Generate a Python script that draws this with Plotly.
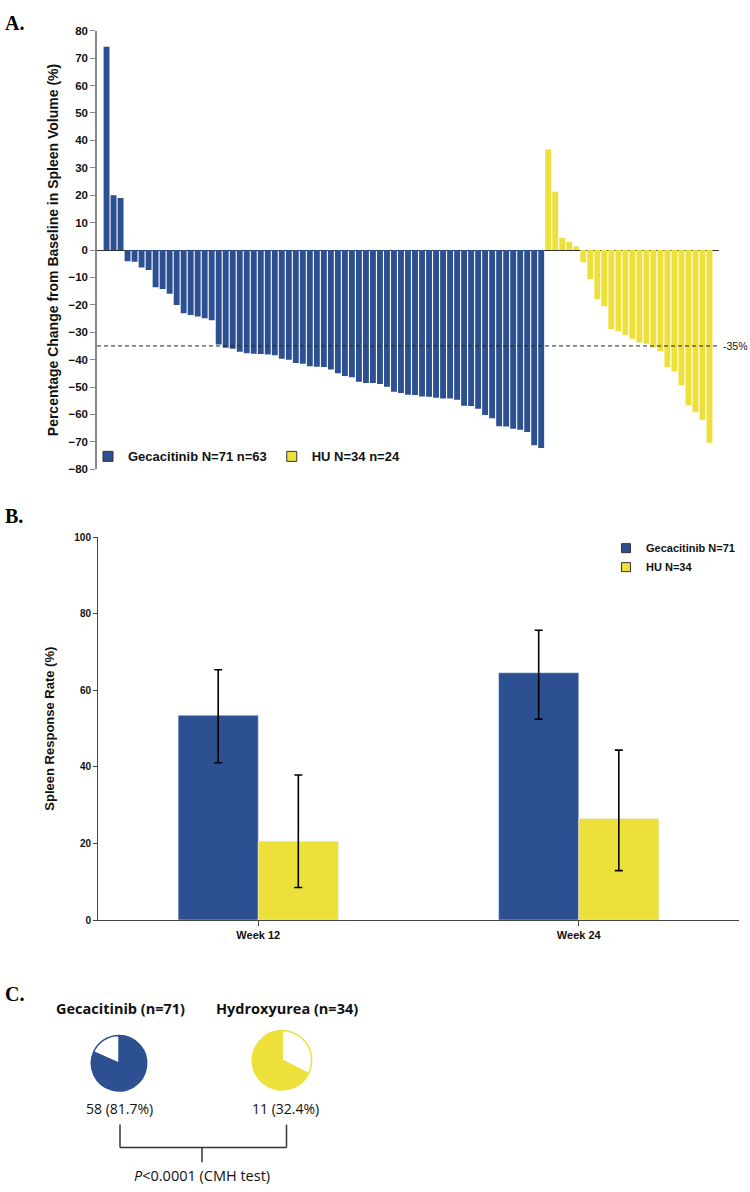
import plotly.graph_objects as go

# ---------------- DATA ----------------
gec_change = [74.2, 20.0, 19.0, -4.1, -4.3, -6.4, -7.3, -13.6, -14.2, -16.0,
              -20.1, -23.1, -23.7, -24.3, -24.9, -25.6, -34.5, -35.7, -36.0, -37.1,
              -37.7, -37.8, -37.9, -38.1, -38.4, -39.7, -40.0, -41.2, -41.5, -42.4,
              -42.6, -42.7, -43.6, -45.0, -46.0, -46.4, -48.1, -48.5, -48.5, -48.9,
              -49.9, -51.7, -52.2, -52.8, -52.9, -53.4, -53.5, -53.9, -54.2, -54.2,
              -54.6, -56.8, -56.9, -57.9, -60.2, -61.4, -64.3, -64.4, -65.2, -65.6,
              -66.4, -71.2, -72.2]
hu_change = [36.7, 21.3, 4.5, 2.9, 1.3, -4.5, -10.6, -18.0, -20.5, -28.8,
             -29.5, -30.9, -32.4, -33.7, -34.2, -35.6, -36.9, -42.8, -44.3, -49.3,
             -56.6, -59.2, -61.9, -70.3]
threshold = -35

weeks = ["Week 12", "Week 24"]
gec_rate = [53.5, 64.6]
gec_low = [41.1, 52.5]
gec_high = [65.4, 75.7]
hu_rate = [20.6, 26.5]
hu_low = [8.5, 12.9]
hu_high = [37.9, 44.4]

pie_gec = [81.7, 18.3]
pie_hu = [32.4, 67.6]

BLUE = "#2C5091"
YELLOW = "#EDE03A"

W, H = 750, 1192
def X(px): return px / W
def Y(py): return 1 - py / H

fig = go.Figure()

# ---------------- PANEL A ----------------
xa_g = list(range(len(gec_change)))
xa_h = list(range(len(gec_change), len(gec_change) + len(hu_change)))
fig.add_trace(go.Bar(x=xa_g, y=gec_change, marker=dict(color=BLUE, line=dict(width=0)),
                     width=0.84, offset=-0.42, xaxis="x", yaxis="y", showlegend=False))
fig.add_trace(go.Bar(x=xa_h, y=hu_change, marker=dict(color=YELLOW, line=dict(width=0)),
                     width=0.84, offset=-0.42, xaxis="x", yaxis="y", showlegend=False))
fig.add_trace(go.Scatter(x=[None], y=[None], mode="markers", name="Gecacitinib N=71 n=63",
                         marker=dict(symbol="square", size=10, color=BLUE, line=dict(color="#333", width=1)),
                         xaxis="x", yaxis="y", legend="legend"))
fig.add_trace(go.Scatter(x=[None], y=[None], mode="markers", name="HU N=34 n=24",
                         marker=dict(symbol="square", size=10, color=YELLOW, line=dict(color="#333", width=1)),
                         xaxis="x", yaxis="y", legend="legend"))

# ---------------- PANEL B ----------------
fig.add_trace(go.Bar(x=weeks, y=gec_rate, name="Gecacitinib N=71", marker=dict(color=BLUE),
                     error_y=dict(type="data", array=[h - r for h, r in zip(gec_high, gec_rate)],
                                  arrayminus=[r - l for r, l in zip(gec_rate, gec_low)],
                                  color="black", thickness=1.6, width=4),
                     xaxis="x2", yaxis="y2", showlegend=False))
fig.add_trace(go.Bar(x=weeks, y=hu_rate, name="HU N=34", marker=dict(color=YELLOW),
                     error_y=dict(type="data", array=[h - r for h, r in zip(hu_high, hu_rate)],
                                  arrayminus=[r - l for r, l in zip(hu_rate, hu_low)],
                                  color="black", thickness=1.6, width=4),
                     xaxis="x2", yaxis="y2", showlegend=False))
fig.add_trace(go.Scatter(x=[None], y=[None], mode="markers", name="Gecacitinib N=71",
                         marker=dict(symbol="square", size=9, color=BLUE, line=dict(color="#333", width=1)),
                         xaxis="x2", yaxis="y2", legend="legend2"))
fig.add_trace(go.Scatter(x=[None], y=[None], mode="markers", name="HU N=34",
                         marker=dict(symbol="square", size=9, color=YELLOW, line=dict(color="#333", width=1)),
                         xaxis="x2", yaxis="y2", legend="legend2"))

# ---------------- PANEL C ----------------
fig.add_trace(go.Pie(values=pie_gec, marker=dict(colors=[BLUE, "white"], line=dict(color=BLUE, width=1.5)),
                     sort=False, direction="clockwise", rotation=0, textinfo="none", hoverinfo="skip",
                     showlegend=False, domain=dict(x=[X(91), X(147)], y=[Y(1096), Y(1040)])))
fig.add_trace(go.Pie(values=pie_hu, marker=dict(colors=["white", YELLOW], line=dict(color=YELLOW, width=1.5)),
                     sort=False, direction="clockwise", rotation=0, textinfo="none", hoverinfo="skip",
                     showlegend=False, domain=dict(x=[X(252), X(312)], y=[Y(1095), Y(1035)])))

n_total = len(gec_change) + len(hu_change)
axfont = dict(family="Arial", size=11.5, color="#111", weight="bold")
narrow = dict(family="Liberation Sans Narrow, Arial Narrow, Arial", size=10, color="#111", weight="bold")

fig.update_layout(
    width=W, height=H, margin=dict(l=0, r=0, t=0, b=0),
    paper_bgcolor="white", plot_bgcolor="white",
    barmode="group", bargap=0.5, bargroupgap=0,
    xaxis=dict(domain=[X(97), X(719)], range=[-1.36, n_total - 1 + 1.36],
               showline=False, showticklabels=False, ticks="", showgrid=False, zeroline=False),
    yaxis=dict(domain=[Y(468), Y(25)], range=[-80, 80], dtick=10, tick0=0,
               showline=True, linecolor="#888", linewidth=1.5, ticks="outside", ticklen=5,
               tickcolor="#888", showgrid=False, zeroline=True, zerolinecolor="#333", zerolinewidth=1,
               tickfont=axfont,
               title=dict(text="Percentage Change from Baseline in Spleen Volume (%)",
                          font=dict(family="Arial", size=14, color="#111", weight="bold"), standoff=7)),
    xaxis2=dict(domain=[X(98), X(739)], range=[-0.5, 1.5], anchor="y2",
                showline=True, linecolor="#444", linewidth=1.2, ticks="outside", ticklen=5, tickcolor="#444",
                showgrid=False, tickfont=dict(family="Arial", size=11, color="#111", weight="bold")),
    yaxis2=dict(domain=[Y(923.3), Y(536.7)], range=[0, 100], dtick=20, anchor="x2",
                showline=True, linecolor="#444", linewidth=1, ticks="outside", ticklen=4, tickcolor="#444",
                showgrid=False, zeroline=False, tickfont=narrow,
                title=dict(text="Spleen Response Rate (%)",
                           font=dict(family="Arial", size=13, color="#111", weight="bold"), standoff=16)),
    legend=dict(orientation="h", x=X(88), y=Y(455), xanchor="left", yanchor="middle",
                font=dict(family="Arial", size=13, color="#111", weight="bold"),
                bgcolor="rgba(0,0,0,0)", itemwidth=30),
    legend2=dict(orientation="v", x=X(606), y=Y(533), xanchor="left", yanchor="top",
                 font=dict(family="Arial", size=11, color="#111", weight="bold"),
                 bgcolor="rgba(0,0,0,0)", tracegroupgap=0, itemwidth=30),
    shapes=[
        dict(type="line", xref="paper", yref="y", x0=X(97), x1=X(719), y0=threshold, y1=threshold,
             line=dict(color="#222", width=1, dash="4px,3px")),
        dict(type="line", xref="paper", yref="paper", x0=X(120), x1=X(120), y0=Y(1130), y1=Y(1153),
             line=dict(color="#333", width=1.5)),
        dict(type="line", xref="paper", yref="paper", x0=X(286.5), x1=X(286.5), y0=Y(1130), y1=Y(1153),
             line=dict(color="#333", width=1.5)),
        dict(type="line", xref="paper", yref="paper", x0=X(120), x1=X(286.5), y0=Y(1153), y1=Y(1153),
             line=dict(color="#333", width=1.5)),
        dict(type="line", xref="paper", yref="paper", x0=X(202), x1=X(202), y0=Y(1153), y1=Y(1168),
             line=dict(color="#333", width=1.5)),
    ],
    annotations=[
        dict(text="A.", x=X(3), y=Y(4), xref="paper", yref="paper", xanchor="left", yanchor="top",
             showarrow=False, font=dict(family="Liberation Serif", size=20, color="black", weight="bold")),
        dict(text="B.", x=X(3), y=Y(502), xref="paper", yref="paper", xanchor="left", yanchor="top",
             showarrow=False, font=dict(family="Liberation Serif", size=20, color="black", weight="bold")),
        dict(text="C.", x=X(3), y=Y(985), xref="paper", yref="paper", xanchor="left", yanchor="top",
             showarrow=False, font=dict(family="Liberation Serif", size=20, color="black", weight="bold")),
        dict(text="-35%", x=X(721), y=threshold, xref="paper", yref="y", xanchor="left", yanchor="middle",
             showarrow=False, font=dict(family="Arial", size=10.5, color="#111")),
        dict(text="Gecacitinib (n=71)", x=X(120), y=Y(1013), xref="paper", yref="paper", xanchor="center",
             yanchor="middle", showarrow=False, font=dict(family="Open Sans", size=14.5, color="#111", weight="bold")),
        dict(text="Hydroxyurea (n=34)", x=X(287), y=Y(1013), xref="paper", yref="paper", xanchor="center",
             yanchor="middle", showarrow=False, font=dict(family="Open Sans", size=14.5, color="#111", weight="bold")),
        dict(text="58 (81.7%)", x=X(119), y=Y(1114), xref="paper", yref="paper", xanchor="center",
             yanchor="middle", showarrow=False, font=dict(family="Open Sans", size=14, color="#111")),
        dict(text="11 (32.4%)", x=X(285), y=Y(1114), xref="paper", yref="paper", xanchor="center",
             yanchor="middle", showarrow=False, font=dict(family="Open Sans", size=14, color="#111")),
        dict(text="<i>P</i><0.0001 (CMH test)", x=X(202), y=Y(1181), xref="paper", yref="paper", xanchor="center",
             yanchor="middle", showarrow=False, font=dict(family="Open Sans", size=14.5, color="#111")),
    ],
)

fig.write_html("out.html", config={"displayModeBar": False},
               post_script="document.body.style.margin='0px';document.body.style.overflow='hidden';")
